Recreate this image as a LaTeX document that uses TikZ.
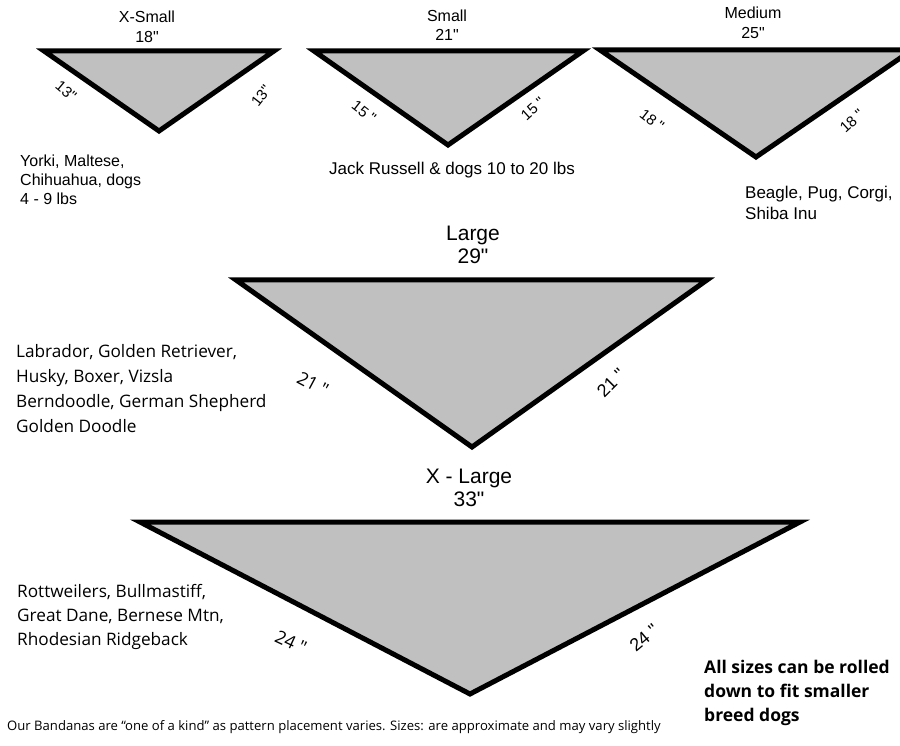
\documentclass[tikz,border=0pt]{standalone}
\usepackage{fontspec}
\setmainfont{Liberation Sans}
\newfontfamily\segoe{Open Sans}
\newcommand\inch{\XeTeXglyph\XeTeXcharglyph"22\relax}
\begin{document}
\begin{tikzpicture}[x=1pt,y=-1pt,
  band/.style={draw=black,fill=bandgrey,line width=5pt,line join=miter},
  ttl/.style={font=\fontsize{16}{19.5}\selectfont,align=center,inner sep=0pt},
  bigttl/.style={font=\fontsize{21}{23.5}\selectfont,align=center,inner sep=0pt},
  side/.style={font=\fontsize{15}{17}\selectfont,inner sep=0pt},
  bigside/.style={font=\fontsize{18}{20}\selectfont,inner sep=0pt},
  breed/.style={font=\fontsize{16}{19}\selectfont,align=left,anchor=north west,inner sep=0pt},
  sbreed/.style={font=\segoe\fontsize{17.2}{25}\selectfont,align=left,anchor=north west,inner sep=0pt}]
\definecolor{bandgrey}{RGB}{192,192,192}
\useasboundingbox (0,0) rectangle (900,746);
\clip (0,0) rectangle (900,746);
% X-Small
\coordinate (xs1) at (44,51); \coordinate (xs2) at (274,51); \coordinate (xs3) at (159,131);
\draw[band] (xs1) -- (xs2) -- (xs3) -- cycle;
\node[ttl] (xst) at (147,27) {X-Small\\18\inch};
\node[side,rotate=-40] (xsl) at (66,91) {13\inch};
\node[side,rotate=52] (xsr) at (261,96) {13\inch};
\node[breed] (xsb) at (20,155) {Yorki, Maltese,\\Chihuahua, dogs\\4 - 9 lbs};
% Small
\coordinate (s1) at (314,51); \coordinate (s2) at (583,51); \coordinate (s3) at (448,145);
\draw[band] (s1) -- (s2) -- (s3) -- cycle;
\node[ttl] (st) at (447,25) {Small\\21\inch};
\node[side,rotate=-38] (sl) at (364,112) {15 \inch};
\node[side,rotate=42] (sr) at (533,109) {15 \inch};
\node[side,font=\fontsize{17}{19}\selectfont] (sb) at (452,170) {Jack Russell \& dogs 10 to 20 lbs};
% Medium
\coordinate (m1) at (600,50); \coordinate (m2) at (912,50); \coordinate (m3) at (756,157);
\draw[band] (m1) -- (m2) -- (m3) -- cycle;
\node[ttl] (mt) at (753,23) {Medium\\25\inch};
\node[side,rotate=-38] (ml) at (652,120) {18 \inch};
\node[side,rotate=42] (mr) at (852,121) {18 \inch};
\node[breed,font=\fontsize{17}{21}\selectfont] (mb) at (745,186) {Beagle, Pug, Corgi,\\Shiba Inu};
% Large
\coordinate (l1) at (236,280); \coordinate (l2) at (707,280); \coordinate (l3) at (472,447);
\draw[band] (l1) -- (l2) -- (l3) -- cycle;
\node[bigttl] (lt) at (473,245) {Large\\29\inch};
\node[bigside,font=\segoe\fontsize{18}{20}\selectfont,rotate=-28] (ll) at (313,384) {21 \inch};
\node[bigside,rotate=45] (lr) at (611,383) {21 \inch};
\node[sbreed] (lb) at (16,344) {Labrador, Golden Retriever,\\Husky, Boxer, Vizsla\\Berndoodle, German Shepherd\\Golden Doodle};
% X-Large
\coordinate (x1) at (140,522); \coordinate (x2) at (800,522); \coordinate (x3) at (470,694);
\draw[band] (x1) -- (x2) -- (x3) -- cycle;
\node[bigttl] (xlt) at (469,488) {X - Large\\33\inch};
\node[bigside,font=\segoe\fontsize{18}{20}\selectfont,rotate=-25] (xll) at (291,642) {24 \inch};
\node[bigside,rotate=40] (xlr) at (644,638) {24 \inch};
\node[sbreed,font=\segoe\fontsize{17.2}{24}\selectfont] (xlb) at (17,584) {Rottweilers, Bullmastiff,\\Great Dane, Bernese Mtn,\\Rhodesian Ridgeback};
\node[font=\segoe\bfseries\fontsize{17.5}{24}\selectfont,align=left,anchor=north west,inner sep=0pt] (roll) at (704,660) {All sizes can be rolled\\down to fit smaller\\breed dogs};
\node[font=\segoe\fontsize{13.1}{15}\selectfont,anchor=west,inner sep=0pt] (foot) at (7,727) {Our Bandanas are “one of a kind” as pattern placement varies. Sizes: are approximate and may vary slightly};
\end{tikzpicture}
\end{document}
